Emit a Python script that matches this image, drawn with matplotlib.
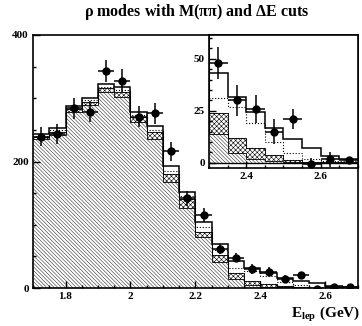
import numpy as np
import matplotlib
matplotlib.use("Agg")
import matplotlib.pyplot as plt

plt.rcParams['font.family'] = ['Liberation Serif', 'DejaVu Serif']
plt.rcParams['font.weight'] = 'bold'
plt.rcParams['mathtext.fontset'] = 'custom'
plt.rcParams['mathtext.rm'] = 'Liberation Serif:bold'
plt.rcParams['mathtext.it'] = 'Liberation Serif:bold'
plt.rcParams['mathtext.bf'] = 'Liberation Serif:bold'
plt.rcParams['hatch.linewidth'] = 0.4

# ---- data ----
edges = [1.70, 1.75, 1.80, 1.85, 1.90, 1.95, 2.00, 2.05, 2.10, 2.15, 2.20,
         2.25, 2.30, 2.35, 2.40, 2.45, 2.50, 2.55, 2.60, 2.65, 2.70]
# stacked MC components (cumulative tops)
bc_top     = [235, 242, 279, 289, 310, 302, 262, 236, 167, 126, 80, 41, 14, 4.5, 1.8, 0.8, 0.2, 0.0, 0.0, 0.0]
cross_top  = [239, 247, 283, 294, 316, 310, 271, 246, 180, 141, 89, 52, 24, 11.7, 6.9, 3.7, 1.3, 0.5, 0.3, 0.2]
dotted_top = [241, 250, 285, 297, 318, 313, 274, 250, 185, 145, 96, 60, 31, 27, 19, 10, 4.7, 2.0, 1.0, 0.8]
total      = [243, 253, 287, 301, 322, 318, 279, 256, 193, 152, 105, 70, 43, 31.6, 24.2, 16.5, 11.4, 7.2, 3.4, 1.8]
data       = [239, 243, 284, 279, 343, 328, 271, 276, 216, 142, 116, 62, 48, 30, 25.8, 15, 21, -0.8, 1.6, 1.3]
data_err   = [15, 16, 17, 17, 18, 18, 16, 16, 15, 12, 11, 8, 7.6, 7.6, 6.8, 6, 4.8, 3, 3.5, 1.2]

title = r'$\rho$ modes with M($\pi\pi$) and $\Delta$E cuts'
xlabel = r'$\mathbf{E_{lep}}$ (GeV)'

edges = np.array(edges)
centers = 0.5 * (edges[:-1] + edges[1:])
half = 0.5 * np.diff(edges)

fig = plt.figure(figsize=(3.62, 3.26), dpi=100)
ax = fig.add_axes([33/362, 1-288/326, (358-33)/362, (288-35)/326])
ins = fig.add_axes([209/362, 1-168/326, (358-209)/362, (168-35)/326])


def draw(a):
    a.stairs(bc_top, edges, baseline=0, fill=True, facecolor='white',
             edgecolor='#333333', hatch='\\\\\\\\\\\\\\\\\\', linewidth=0)
    a.stairs(cross_top, edges, baseline=bc_top, fill=True, facecolor='white',
             edgecolor='black', hatch='xxxxxxx', linewidth=0.6)
    a.stairs(dotted_top, edges, baseline=cross_top, fill=False,
             color='black', linestyle=':', linewidth=0.8)
    a.stairs(total, edges, baseline=None, color='black', linewidth=1.1)
    a.errorbar(centers, data, yerr=data_err, xerr=half, fmt='o', color='black',
               markersize=5, elinewidth=1.1, capsize=0)


draw(ax)
ax.set_xlim(1.70, 2.70)
ax.set_ylim(0, 400)
ax.set_xticks([1.8, 2.0, 2.2, 2.4, 2.6])
ax.set_xticklabels(['1.8', '2', '2.2', '2.4', '2.6'])
ax.set_yticks([0, 200, 400])
ax.set_xticks(np.arange(1.70, 2.701, 0.05), minor=True)
ax.set_yticks(np.arange(0, 401, 50), minor=True)
ax.tick_params(direction='in', which='both', labelsize=8, width=1, pad=3)
ax.tick_params(which='major', length=5)
ax.tick_params(which='minor', length=2.5)
for s in ax.spines.values():
    s.set_linewidth(1.2)
for lab in ax.get_xticklabels() + ax.get_yticklabels():
    lab.set_fontweight('bold')

draw(ins)
ins.set_xlim(2.30, 2.70)
ins.set_ylim(-2.5, 61.4)
ins.axhline(0, color='black', linewidth=1.0)
ins.set_xticks([2.4, 2.6])
ins.set_xticklabels(['2.4', '2.6'])
ins.set_yticks([0, 25, 50])
ins.set_xticks(np.arange(2.30, 2.701, 0.05), minor=True)
ins.set_yticks(np.arange(0, 61, 5), minor=True)
ins.tick_params(direction='in', which='both', labelsize=8, width=1, pad=3)
ins.tick_params(which='major', length=5)
ins.tick_params(which='minor', length=2.5)
for s in ins.spines.values():
    s.set_linewidth(1.2)
for lab in ins.get_xticklabels() + ins.get_yticklabels():
    lab.set_fontweight('bold')

fig.text(197/362, 1-12/326, title, ha='center', va='center', fontsize=11.5,
         fontweight='bold')
fig.text(360/362, 1-314/326, xlabel, ha='right', va='center', fontsize=11,
         fontweight='bold')

fig.savefig('out.png', dpi=100)
